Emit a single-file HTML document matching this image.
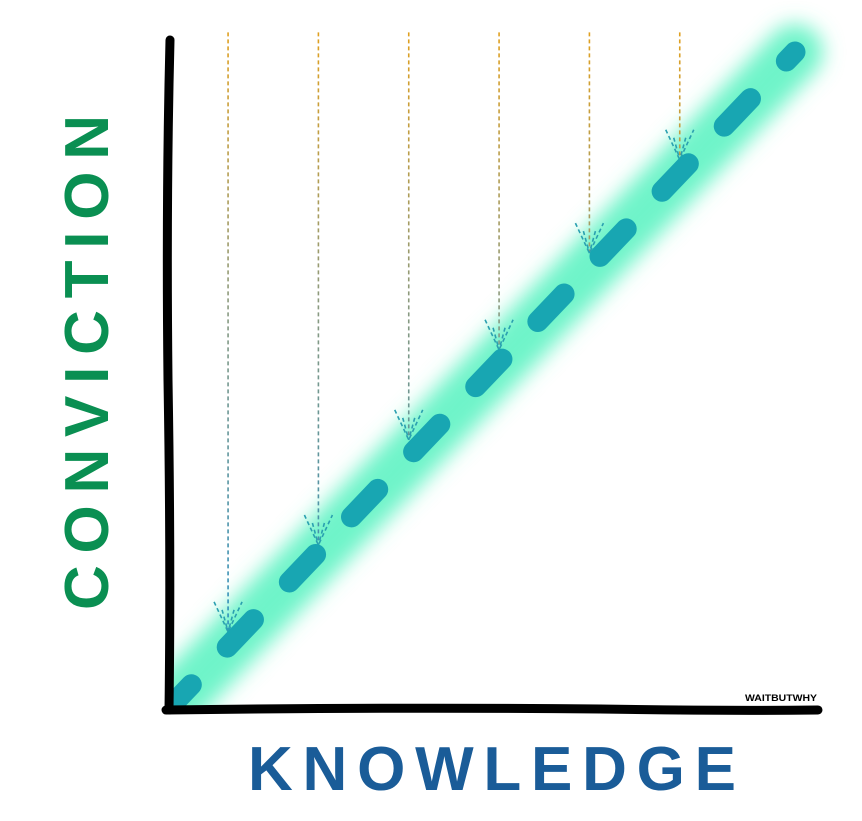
<!DOCTYPE html>
<html><head><meta charset="utf-8"><style>
html,body{margin:0;padding:0;background:#fff;}
svg{display:block;}
</style></head><body>
<svg id="chart" width="862" height="821" viewBox="0 0 862 821" xmlns="http://www.w3.org/2000/svg">
<defs>
  <filter id="glow" x="-20%" y="-20%" width="140%" height="140%"><feGaussianBlur stdDeviation="10"/></filter>
  <linearGradient id="arrowGrad" gradientUnits="userSpaceOnUse" x1="0" y1="35" x2="0" y2="640">
    <stop offset="0" stop-color="#e0a020"/>
    <stop offset="0.45" stop-color="#8a9a80"/>
    <stop offset="1" stop-color="#2a8fc0"/>
  </linearGradient>
  <clipPath id="plotClip"><rect x="172" y="0" width="700" height="706"/></clipPath>
</defs>
<g id="glow-layer" clip-path="url(#plotClip)"></g>
<g id="arrows"></g>
<g id="trend" clip-path="url(#plotClip)"></g>
<path d="M170 40 Q166 200 168 380 Q171 560 169 710" stroke="#000" stroke-width="9" fill="none" stroke-linecap="round"/>
<path d="M166 710 Q400 707 600 709 Q720 711 818 710" stroke="#000" stroke-width="9" fill="none" stroke-linecap="round"/>
<text transform="translate(108,610) rotate(-90)" x="0" y="0" font-family="Liberation Sans, sans-serif" font-weight="bold" font-size="62" fill="#0a8f52" textLength="495" lengthAdjust="spacing">CONVICTION</text>
<text x="248" y="790" font-family="Liberation Sans, sans-serif" font-weight="bold" font-size="62" fill="#1a5c98" textLength="488" lengthAdjust="spacing">KNOWLEDGE</text>
<text x="745" y="701" font-family="Liberation Sans, sans-serif" font-weight="bold" font-size="9.5" fill="#000" textLength="72" lengthAdjust="spacingAndGlyphs">WAITBUTWHY</text>
</svg>
<script>
const lineKnowledge = [0, 10];
const lineConviction = [0, 10];
const arrowKnowledge = [0.9, 2.35, 3.8, 5.25, 6.7, 8.15];
const arrowConviction = [1.12, 2.45, 4.06, 5.44, 6.92, 8.35];
const arrowTop = 10.3;

const NS = 'http://www.w3.org/2000/svg';
function xs(v){ return 172 + v * 62.3; }
function ys(v){ return 705 - v * 65.3; }

const glow = document.getElementById('glow-layer');
const trend = document.getElementById('trend');
const arrows = document.getElementById('arrows');

const g = document.createElementNS(NS, 'line');


g.setAttribute('x1', xs(lineKnowledge[0])); g.setAttribute('y1', ys(lineConviction[0]));
g.setAttribute('x2', xs(lineKnowledge[1])); g.setAttribute('y2', ys(lineConviction[1]));
g.setAttribute('stroke', '#55f2c0'); g.setAttribute('stroke-width', '56');
g.setAttribute('stroke-opacity', '0.85');
g.setAttribute('stroke-linecap', 'round'); g.setAttribute('filter', 'url(#glow)');
glow.appendChild(g);

const d = document.createElementNS(NS, 'line');


d.setAttribute('x1', xs(lineKnowledge[0])); d.setAttribute('y1', ys(lineConviction[0]));
d.setAttribute('x2', xs(lineKnowledge[1])); d.setAttribute('y2', ys(lineConviction[1]));
d.setAttribute('stroke', '#18a6b2'); d.setAttribute('stroke-width', '21');
d.setAttribute('stroke-linecap', 'round'); d.setAttribute('stroke-dasharray', '38 52');
d.setAttribute('stroke-dashoffset', '10');
trend.appendChild(d);

for (let i = 0; i < arrowKnowledge.length; i++) {
  const x = xs(arrowKnowledge[i]), yt = ys(arrowTop), yb = ys(arrowConviction[i]);
  const l = document.createElementNS(NS, 'line');
  
  
  l.setAttribute('x1', x); l.setAttribute('y1', yt); l.setAttribute('x2', x); l.setAttribute('y2', yb);
  l.setAttribute('stroke', 'url(#arrowGrad)'); l.setAttribute('stroke-width', '1.6');
  l.setAttribute('stroke-dasharray', '4 3');
  arrows.appendChild(l);
  const h = document.createElementNS(NS, 'path');
  
  
  h.setAttribute('d', `M${x-14} ${yb-30} L${x} ${yb} L${x+14} ${yb-30} M${x-6} ${yb-22} L${x} ${yb} M${x+6} ${yb-22} L${x} ${yb}`);
  h.setAttribute('stroke', '#2aa0b0'); h.setAttribute('stroke-width', '1.6'); h.setAttribute('fill', 'none');
  h.setAttribute('stroke-dasharray', '4 3');
  arrows.appendChild(h);
}
</script>
</body></html>
